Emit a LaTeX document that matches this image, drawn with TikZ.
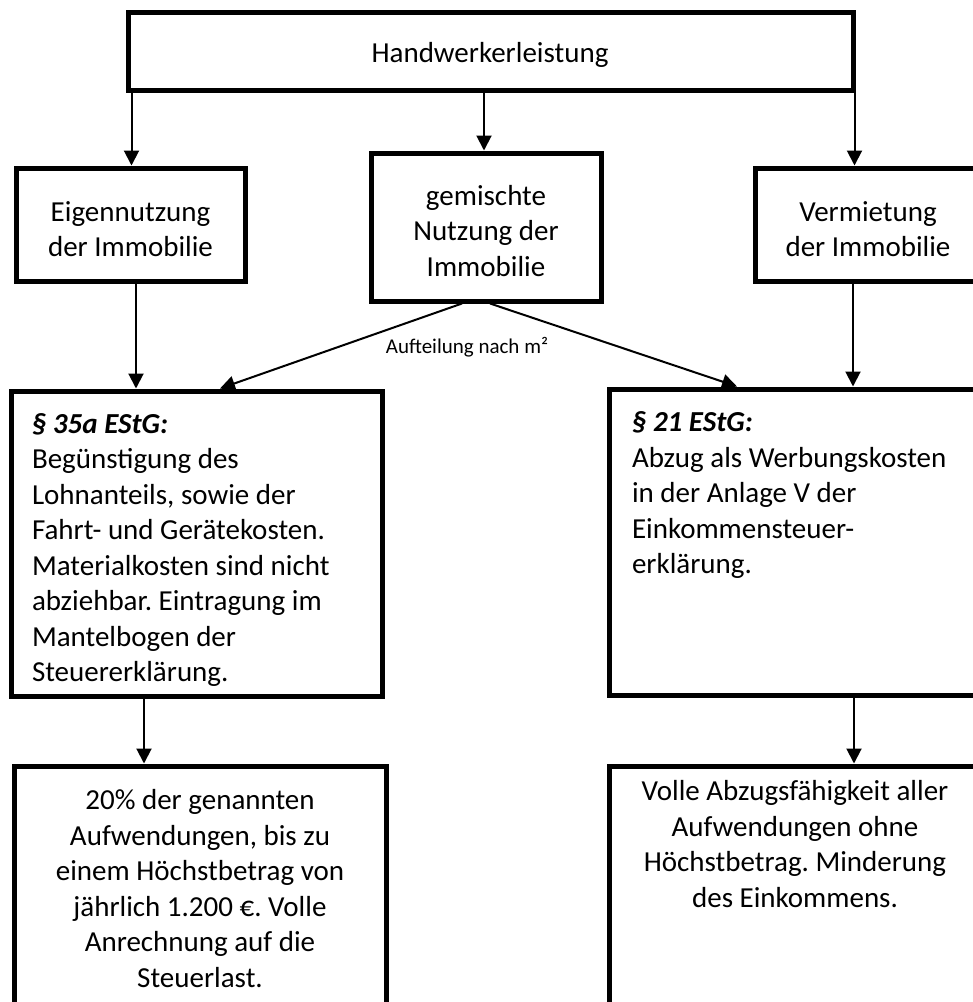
\documentclass[tikz,border=0pt]{standalone}
\usepackage{fontspec}
\setmainfont{Carlito}
\usetikzlibrary{arrows.meta,calc}
\tikzset{
  box/.style={draw, line width=5pt, rectangle, inner sep=0pt, line join=miter},
  txt/.style={inner sep=0pt, outer sep=0pt, font=\frenchspacing\fontsize{29}{35.5}\selectfont},
  small/.style={inner sep=0pt, font=\fontsize{21}{25}\selectfont},
  arr/.style={line width=2pt, -{Triangle[width=15pt,length=15pt]}},
  con/.style={line width=2pt}
}
\begin{document}
\begin{tikzpicture}[x=1pt,y=-1pt]
\useasboundingbox (0,0) rectangle (973,1002);
\clip (0,0) rectangle (973,1002);
% boxes
\node[box, minimum width=725, minimum height=78] (top) at (490.5,51) {};
\node[box, minimum width=229, minimum height=113] (eigen) at (130.5,224.5) {};
\node[box, minimum width=230, minimum height=148] (mixed) at (486,227) {};
\node[box, minimum width=227, minimum height=113] (verm) at (868.5,224.5) {};
\node[box, minimum width=371, minimum height=305] (p35) at (196.5,543.5) {};
\node[box, minimum width=372, minimum height=306] (p21) at (795,542) {};
\node[box, minimum width=372, minimum height=254] (res1) at (200,893) {};
\node[box, minimum width=372, minimum height=254] (res2) at (795,893) {};
% texts
\node[txt, anchor=base] (ttop) at (490,62) {Handwerkerleistung};
\node[txt, align=flush center, text width=220, anchor=north] (teigen) at (130.5,196.5) {\strut Eigennutzung\\ der Immobilie\strut};
\node[txt, align=flush center, text width=220, anchor=north] (tmixed) at (486,180.5) {\strut gemischte\\ Nutzung der\\ Immobilie\strut};
\node[txt, align=flush center, text width=220, anchor=north] (tverm) at (868,196.5) {\strut Vermietung\\ der Immobilie\strut};
\begin{scope}
\clip (0,0) rectangle (973,685);
\node[txt, align=flush left, text width=345, anchor=north west] (tp35) at (32,408.5) {\strut\textbf{\textit{§ 35a EStG:}}\\ Begünstigung des\\ Lohnanteils, sowie der\\ Fahrt- und Gerätekosten.\\ Materialkosten sind nicht\\ abziehbar. Eintragung im\\ Mantelbogen der\\ Steuererklärung.\strut};
\end{scope}
\node[txt, align=flush left, text width=345, anchor=north west] (tp21) at (632,407) {\strut\textbf{\textit{§ 21 EStG:}}\\ Abzug als Werbungskosten\\ in der Anlage V der\\ Einkommensteuer-\\ erklärung.\strut};
\node[txt, align=flush center, text width=360, anchor=north] (tres1) at (200,785) {\strut 20\% der genannten\\ Aufwendungen, bis zu\\ einem Höchstbetrag von\\ jährlich 1.200 €. Volle\\ Anrechnung auf die\\ Steuerlast.\strut};
\node[txt, align=flush center, text width=360, anchor=north] (tres2) at (795,776) {\strut Volle Abzugsfähigkeit aller\\ Aufwendungen ohne\\ Höchstbetrag. Minderung\\ des Einkommens.\strut};
\node[small, anchor=base] (lbl) at (467,353) {Aufteilung nach m²};
% connectors
\draw[arr] ([xshift=6pt]top.south west) -- ([xshift=6pt]top.south west |- eigen.north);
\draw[arr] ([xshift=-2pt]mixed.north |- top.south) -- ([xshift=-2pt]mixed.north);
\draw[arr] ([xshift=-1pt]top.south east) -- ([xshift=-1pt]top.south east |- verm.north);
\draw[arr] ([xshift=5.5pt]eigen.south) -- ([xshift=5.5pt]eigen.south |- p35.north);
\draw[arr] ([xshift=-15.5pt]verm.south) -- ([xshift=-15.5pt]verm.south |- p21.north);
\draw[arr] ([xshift=-24pt]mixed.south) -- ([xshift=23.5pt]p35.north);
\draw[arr] ([xshift=4pt]mixed.south) -- ([xshift=-58pt]p21.north);
\draw[arr] ([xshift=-52.5pt]p35.south) -- ([xshift=-52.5pt]p35.south |- res1.north);
\draw[arr] ([xshift=59pt]p21.south) -- ([xshift=59pt]p21.south |- res2.north);
\end{tikzpicture}
\end{document}
